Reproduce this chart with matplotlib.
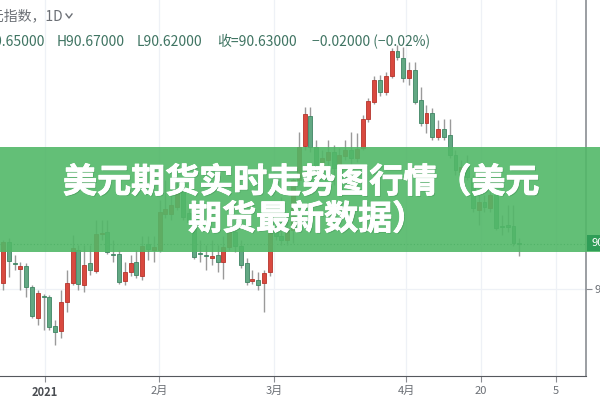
"""USD index daily candles (Dec 2020 - Apr 2021) with the green headline banner on top."""
import numpy as np
import matplotlib
matplotlib.use("Agg")
import matplotlib.pyplot as plt
import matplotlib.patheffects as pe
from matplotlib.patches import Rectangle
from matplotlib.lines import Line2D

CJK = ["Noto Sans CJK SC", "DejaVu Sans"]
plt.rcParams["font.family"] = CJK

RED, RED_EDGE = "#d9493f", "#b5352c"
GREEN, GREEN_EDGE = "#62a883", "#3f8563"
WICK, GRID, AXIS, MUTED = "#9a9a9a", "#eef1f6", "#8a8d92", "#6b6f75"
BANNER, PRICE_BOX, HEAD_GREEN = "#52b868", "#2f9d57", "#3f7462"

# one candle per trading day
OPEN = [90.08, 90.66, 90.37, 90.28, 90.32, 90.03, 89.59, 89.90, 89.89, 89.48,
        89.41, 89.82, 90.08, 90.55, 90.06, 90.37, 90.25, 90.77, 90.80, 90.49,
        90.49, 90.11, 90.24, 90.38, 90.18, 90.63, 90.55, 90.55, 91.06, 91.06,
        91.15, 91.37, 91.07, 90.86, 90.50, 90.48, 90.44, 90.48, 90.38, 90.59,
        90.80, 90.61, 90.37, 90.11, 90.13, 90.08, 90.24, 90.86, 90.75, 90.69,
        90.83, 91.54, 92.01, 92.44, 92.00, 91.68, 91.82, 91.93, 91.70, 91.87,
        91.96, 91.85, 91.99, 92.39, 92.63, 92.94, 92.77, 93.00, 93.35, 93.25,
        92.97, 93.08, 92.66, 92.34, 92.48, 92.14, 92.25, 92.17, 91.89, 91.65,
        91.72, 91.56, 91.11, 91.23, 91.14, 91.32, 90.89, 90.89, 90.89, 90.65]
HIGH = [90.69, 90.72, 90.48, 90.38, 90.37, 90.06, 89.99, 89.93, 89.92, 89.56,
        89.99, 90.27, 90.76, 90.62, 90.62, 90.62, 90.97, 90.97, 90.97, 90.69,
        90.55, 90.38, 90.48, 90.55, 90.75, 90.75, 90.75, 91.25, 91.54, 91.54,
        91.54, 91.42, 91.18, 90.94, 90.69, 90.62, 90.69, 90.62, 90.75, 90.94,
        90.86, 90.69, 90.44, 90.27, 90.24, 90.27, 90.94, 90.94, 91.30, 90.97,
        91.59, 92.21, 92.56, 92.56, 92.10, 91.96, 92.10, 92.03, 91.99, 92.10,
        92.21, 92.20, 92.45, 92.69, 93.00, 93.01, 93.06, 93.39, 93.44, 93.41,
        93.20, 93.20, 92.85, 92.59, 92.55, 92.38, 92.39, 92.39, 91.96, 91.82,
        91.89, 91.61, 91.32, 91.32, 91.44, 91.39, 91.04, 91.18, 91.18, 90.72]
LOW = [89.99, 90.17, 90.27, 89.99, 89.89, 89.59, 89.49, 89.42, 89.42, 89.21,
       89.31, 89.68, 90.06, 89.99, 89.96, 90.20, 90.23, 90.69, 90.49, 90.38,
       90.07, 90.06, 90.18, 90.15, 90.13, 90.41, 90.38, 90.52, 91.00, 90.97,
       91.11, 90.97, 90.90, 90.42, 90.38, 90.27, 90.34, 90.24, 90.14, 90.55,
       90.52, 90.30, 90.06, 90.07, 89.99, 89.68, 90.18, 90.69, 90.62, 90.62,
       90.65, 91.46, 91.96, 91.93, 91.61, 91.56, 91.75, 91.46, 91.65, 91.82,
       91.75, 91.79, 91.96, 92.35, 92.61, 92.72, 92.73, 92.97, 93.23, 92.92,
       92.87, 92.61, 92.30, 92.20, 92.10, 92.10, 92.10, 91.85, 91.61, 91.54,
       91.54, 91.08, 90.90, 91.08, 91.08, 90.83, 90.76, 90.80, 90.61, 90.46]
CLOSE = [90.66, 90.39, 90.35, 90.32, 90.03, 89.62, 89.94, 89.89, 89.46, 89.39,
         89.82, 90.08, 90.58, 90.07, 90.34, 90.27, 90.77, 90.79, 90.52, 90.48,
         90.10, 90.24, 90.37, 90.20, 90.61, 90.56, 90.59, 91.08, 91.13, 91.18,
         91.37, 91.01, 90.94, 90.45, 90.49, 90.47, 90.46, 90.38, 90.59, 90.83,
         90.61, 90.34, 90.10, 90.14, 90.06, 90.23, 90.83, 90.75, 90.69, 90.86,
         91.54, 92.00, 92.46, 92.00, 91.68, 91.85, 91.93, 91.70, 91.89, 91.96,
         91.85, 91.97, 92.39, 92.65, 92.94, 92.77, 93.00, 93.35, 93.27, 92.97,
         93.08, 92.63, 92.34, 92.48, 92.14, 92.25, 92.14, 91.89, 91.68, 91.72,
         91.58, 91.14, 91.23, 91.15, 91.32, 90.86, 90.87, 90.88, 90.65, 90.63]
LAST = 90.63
TICK_POS = [7.24, 26.9, 46.7, 69.5, 82.4, 95.3]
TICK_LABELS = ["2021", "2月", "3月", "4月", "20", "5"]
HEADER = ["O90.65000", "H90.67000", "L90.62000", "收=90.63000", "\u22120.02000 (\u22120.02%)"]
TITLE = ["美元期货实时走势图行情（美元", "期货最新数据）"]


def px(x, y):
    # figure pixel (top-left origin) -> figure fraction
    return x / 600, 1 - y / 400


fig = plt.figure(figsize=(6, 4), dpi=100)
ax = fig.add_axes([0, 24 / 400, 586 / 600, 376 / 400])
ax.set_xlim(-0.52, 100.5)
ax.set_ylim(88.775, 94.07)

o, h, l, c = map(np.array, (OPEN, HIGH, LOW, CLOSE))
x = np.arange(len(o))
up = c >= o
ax.vlines(x, l, h, color=WICK, lw=1, zorder=2)
body = np.maximum(np.abs(c - o), 0.016)
ax.bar(x, body, bottom=np.minimum(o, c), width=0.68, zorder=3,
       color=np.where(up, RED, GREEN), edgecolor=np.where(up, RED_EDGE, GREEN_EDGE), lw=0.6)
ax.axhline(LAST, color=GREEN_EDGE, lw=0.8, ls=(0, (1, 2)), zorder=1)

ax.set_xticks(TICK_POS)
ax.set_xticklabels(TICK_LABELS, fontsize=8, color=MUTED)
ax.get_xticklabels()[0].set_fontweight("bold")
ax.get_xticklabels()[0].set_color("#4a4d52")
ax.yaxis.tick_right()
ax.set_yticks([90])
ax.set_yticklabels(["90.000"], fontsize=8, color=MUTED)
ax.tick_params(axis="x", length=4, color=AXIS, pad=3)
ax.tick_params(axis="y", length=4, color=AXIS, pad=2)
ax.grid(True, color=GRID, lw=0.9, zorder=0)
for s in ("top", "left"):
    ax.spines[s].set_visible(False)
ax.spines["bottom"].set_color("#55585d")
ax.spines["right"].set_color(AXIS)
ax.spines["right"].set_linewidth(1.2)

# header lines
fig.text(*px(63, 16), "美元指数，1D", ha="right", va="center", fontsize=10, color=MUTED)
fig.add_artist(Line2D([66 / 600, 69 / 600, 72 / 600], [1 - 14 / 400, 1 - 18 / 400, 1 - 14 / 400],
                      color=MUTED, lw=1))
fig.text(*px(45, 42), HEADER[0], ha="right", va="center", fontsize=10, color=HEAD_GREEN)
for xx, t in zip([57, 137, 217, 312], HEADER[1:]):
    fig.text(*px(xx, 42), t, ha="left", va="center", fontsize=10, color=HEAD_GREEN)

# banner + headline
fig.add_artist(Rectangle(px(0, 252), 1, 105 / 400, transform=fig.transFigure,
                         color=BANNER, alpha=0.9, zorder=5, lw=0))
heavy = [pe.withSimplePatchShadow(offset=(0.8, -0.8), shadow_rgbFace="#2f7a42", alpha=0.35),
         pe.withStroke(linewidth=0.6, foreground="white")]
fig.text(*px(301, 182), TITLE[0], ha="center", va="center", fontsize=24.5,
         fontweight="bold", color="white", zorder=6, path_effects=heavy)
fig.text(*px(307, 219), TITLE[1], ha="center", va="center", fontsize=24.5,
         fontweight="bold", color="white", zorder=6, path_effects=heavy)

# last price tag on the price scale
fig.add_artist(Rectangle(px(587, 251), 13 / 600, 16 / 400, transform=fig.transFigure,
                         color=PRICE_BOX, zorder=7, lw=0))
fig.text(*px(591, 243), "90.630", ha="left", va="center", fontsize=8, color="white", zorder=8)

fig.savefig("out.png", dpi=100)
